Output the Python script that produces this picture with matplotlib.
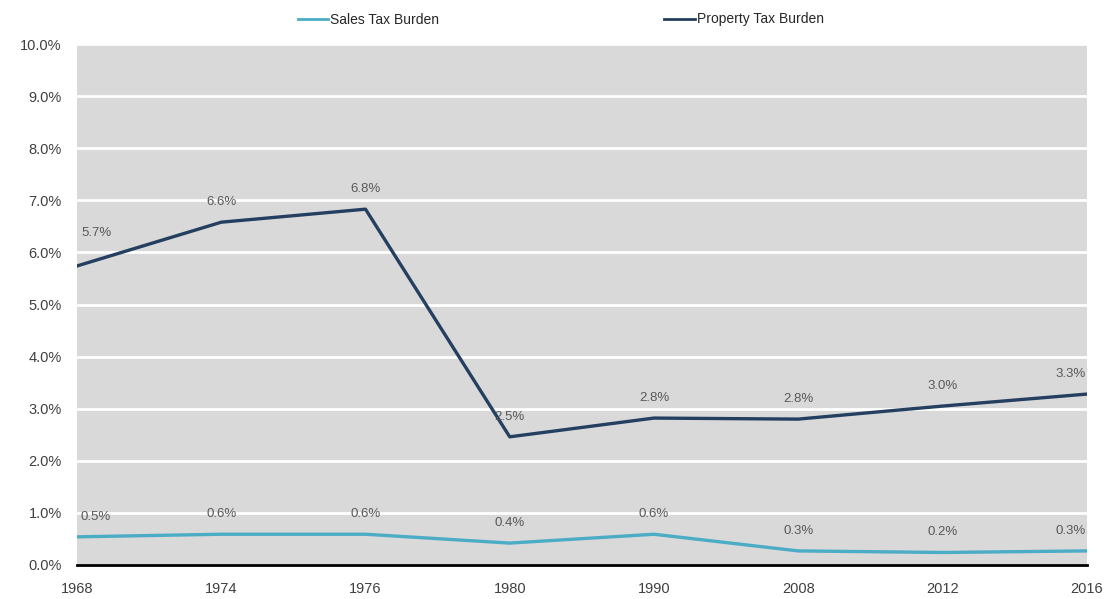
import matplotlib.pyplot as plt
from matplotlib.ticker import FuncFormatter

plt.rcParams['font.family'] = ['Liberation Sans', 'DejaVu Sans']

years = ['1968', '1974', '1976', '1980', '1990', '2008', '2012', '2016']
sales_tax = [0.54, 0.59, 0.59, 0.42, 0.59, 0.27, 0.24, 0.27]
property_tax = [5.74, 6.58, 6.83, 2.46, 2.82, 2.80, 3.05, 3.28]

sales_color = '#4bacc6'
prop_color = '#243f60'
label_color = '#595959'

fig = plt.figure(figsize=(11.07, 5.99), dpi=100)
ax = fig.add_axes([0.0696, 0.0568, 0.912, 0.8697])
ax.set_facecolor('#d9d9d9')

x = list(range(len(years)))
ax.plot(x, sales_tax, color=sales_color, lw=2.4, label='Sales Tax Burden')
ax.plot(x, property_tax, color=prop_color, lw=2.4, label='Property Tax Burden')

# data labels above each point, first/last nudged inside the plot
n = len(years)
for series in (sales_tax, property_tax):
    for i, v in enumerate(series):
        dx = 0
        if i == 0:
            dx = 19
        elif i == n - 1:
            dx = -16
        dy = 33 if (i == 0 and series is property_tax) else 20
        ax.annotate(f'{v:.1f}%', (i, v), xytext=(dx, dy), textcoords='offset pixels',
                    ha='center', va='center', fontsize=9.5, color=label_color)

ax.set_xlim(0, n - 1)
ax.set_ylim(0, 10)
ax.set_yticks(range(0, 11))
ax.yaxis.set_major_formatter(FuncFormatter(lambda v, p: f'{v:.1f}%'))
ax.set_xticks(x)
ax.set_xticklabels(years)
ax.tick_params(length=0, labelsize=10.5, labelcolor='#404040')
ax.tick_params(axis='y', pad=11)
ax.tick_params(axis='x', pad=12)
ax.grid(axis='y', color='white', lw=2)
ax.set_axisbelow(True)
for s in ['top', 'right', 'left']:
    ax.spines[s].set_visible(False)
ax.spines['bottom'].set_color('black')
ax.spines['bottom'].set_linewidth(2)
ax.spines['bottom'].set_zorder(3)

leg = fig.legend(loc='upper center', bbox_to_anchor=(0.5065, 1.0), ncol=2, frameon=False,
                 fontsize=10, handlelength=2.2, handletextpad=0.15, columnspacing=16.2,
                 labelcolor='#262626')
for h in leg.get_lines():
    h.set_linewidth(2)

fig.savefig('out.png', dpi=100)
